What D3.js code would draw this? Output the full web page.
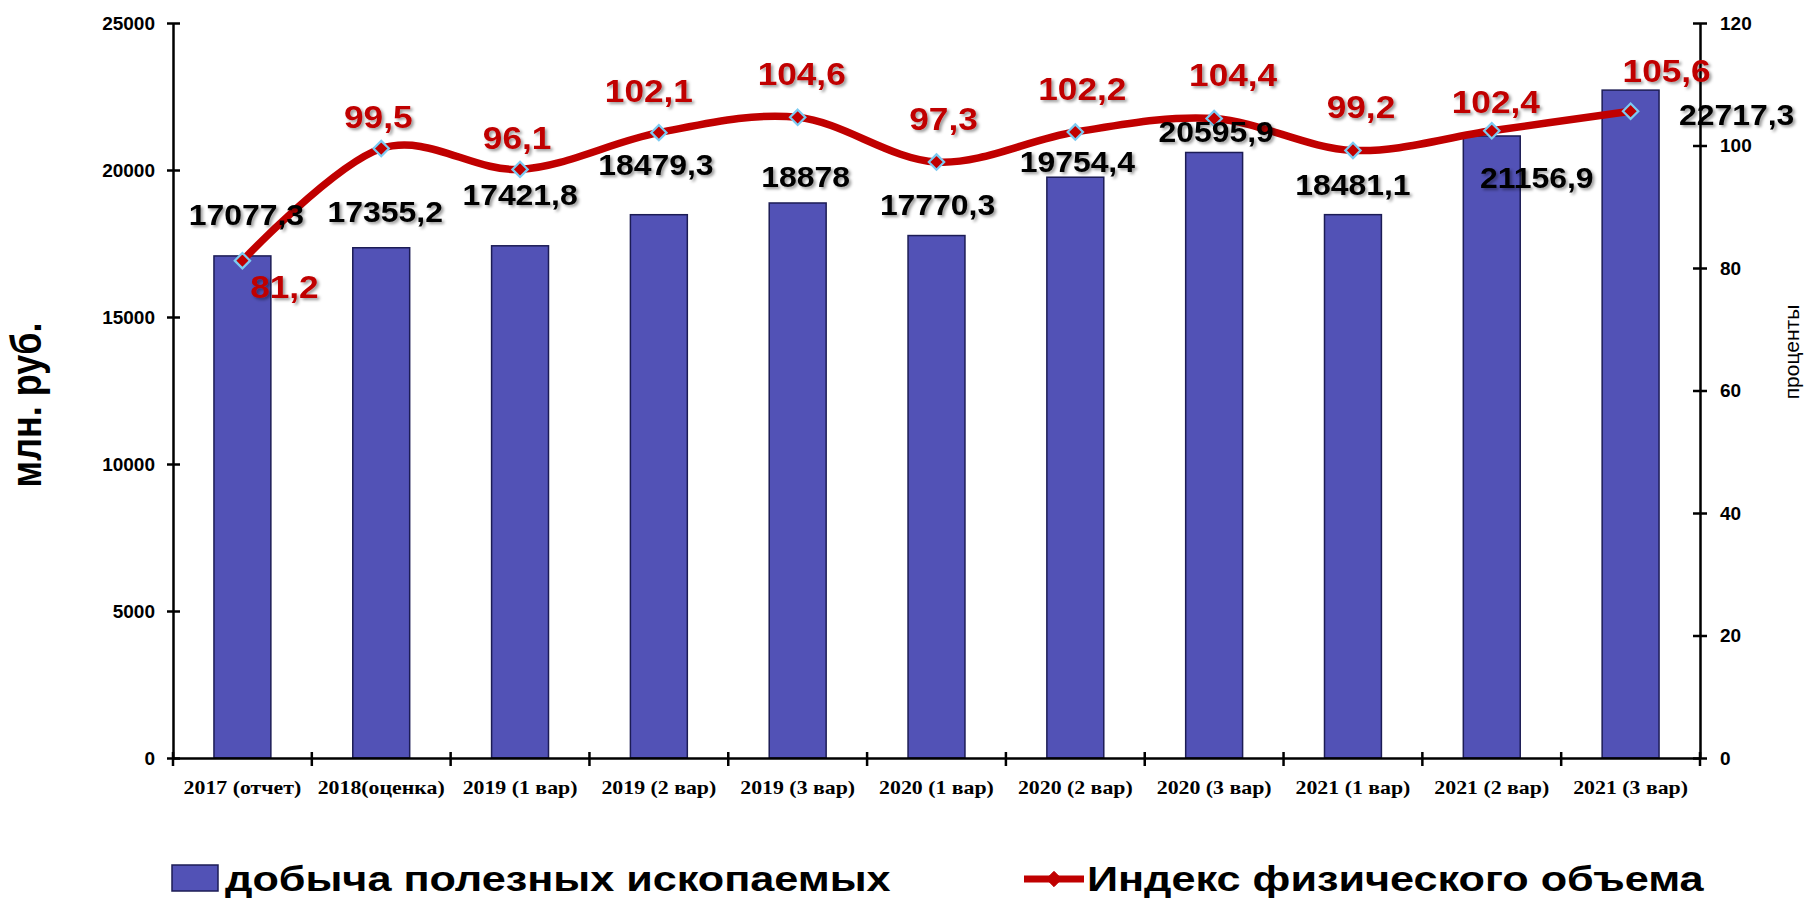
<!DOCTYPE html>
<html>
<head>
<meta charset="utf-8">
<script src="https://cdn.jsdelivr.net/npm/d3@7"></script>
<style>
  body { margin: 0; background: #fff; }
  svg { display: block; }
  .lbl { font-family: "Liberation Sans", Arial, sans-serif; font-weight: bold; }
</style>
</head>
<body>
<div id="chart"></div>
<script>
// data
var categories = ["2017 (отчет)", "2018(оценка)", "2019 (1 вар)", "2019 (2 вар)", "2019 (3 вар)",
  "2020 (1 вар)", "2020 (2 вар)", "2020 (3 вар)", "2021 (1 вар)", "2021 (2 вар)", "2021 (3 вар)"];
var production = [17077.3, 17355.2, 17421.8, 18479.3, 18878, 17770.3, 19754.4, 20595.9, 18481.1, 21156.9, 22717.3];
var volumeIndex = [81.2, 99.5, 96.1, 102.1, 104.6, 97.3, 102.2, 104.4, 99.2, 102.4, 105.6];
var leftTicks = [0, 5000, 10000, 15000, 20000, 25000];
var rightTicks = [0, 20, 40, 60, 80, 100, 120];
var barName = "добыча полезных ископаемых";
var lineName = "Индекс физического объема";

// label offsets (px) from the mark they belong to, as placed in the original
var barLabelOff = [[4, -31], [4, -26], [0, -41], [-3, -40], [8, -16], [1, -21], [2, -5], [2, -10], [0, -20], [45, 52], [106, 35]];
var lineLabelOff = [[42, 37], [-3, -21], [-3, -20], [-10, -31], [4, -32], [7, -32], [7, -32], [19, -33], [8, -32], [4, -18], [36, -29]];

var W = 1808, H = 898;
var plotLeft = 173, plotRight = 1700, plotTop = 23, plotBottom = 758;
var SX = 1.2; // original text is stretched horizontally

var svg = d3.select("#chart").append("svg")
  .attr("width", W).attr("height", H);

var defs = svg.append("defs");
defs.append("filter").attr("id", "sh")
  .attr("x", "-10%").attr("y", "-20%").attr("width", "130%").attr("height", "150%")
  .append("feDropShadow")
  .attr("dx", 2).attr("dy", 2).attr("stdDeviation", 1.4)
  .attr("flood-color", "#000").attr("flood-opacity", 0.4);

var x = d3.scaleBand().domain(categories).range([plotLeft, plotRight]).padding(0);
var yL = d3.scaleLinear().domain([0, 25000]).range([plotBottom, plotTop]);
var yR = d3.scaleLinear().domain([0, 120]).range([plotBottom, plotTop]);
var barW = x.bandwidth() * 0.41;
var cx = function(c) { return x(c) + x.bandwidth() / 2; };

// bars
svg.append("g").selectAll("rect")
  .data(production)
  .join("rect")
  .attr("x", function(d, i) { return cx(categories[i]) - barW / 2; })
  .attr("y", function(d) { return yL(d); })
  .attr("width", barW)
  .attr("height", function(d) { return yL(0) - yL(d); })
  .attr("fill", "#5252B6")
  .attr("stroke", "#1c1c55")
  .attr("stroke-width", 1.5);

// axes
var axL = svg.append("g").attr("transform", "translate(" + plotLeft + ",0)")
  .call(d3.axisLeft(yL).tickValues(leftTicks).tickFormat(d3.format("d"))
    .tickSize(6).tickSizeOuter(0).tickPadding(12));
axL.selectAll(".tick line").attr("x1", 7);

var axR = svg.append("g").attr("transform", "translate(" + plotRight + ",0)")
  .call(d3.axisRight(yR).tickValues(rightTicks).tickFormat(d3.format("d"))
    .tickSize(7).tickSizeOuter(0).tickPadding(13));
axR.selectAll(".tick line").attr("x1", -7);

var axB = svg.append("g").attr("transform", "translate(0," + plotBottom + ")")
  .call(d3.axisBottom(x).tickSize(0).tickSizeOuter(0));
axB.selectAll(".tick text")
  .attr("font-family", "'Liberation Serif', 'Times New Roman', serif")
  .attr("font-weight", "bold")
  .attr("font-size", 18.5)
  .attr("fill", "#000")
  .attr("dy", 0)
  .attr("y", 36)
  .attr("transform", "scale(1.18,1)");
// boundary ticks on the category axis
svg.append("g").selectAll("line")
  .data(d3.range(categories.length + 1))
  .join("line")
  .attr("x1", function(i) { return plotLeft + i * x.step(); })
  .attr("x2", function(i) { return plotLeft + i * x.step(); })
  .attr("y1", plotBottom - 6).attr("y2", plotBottom + 8)
  .attr("stroke", "#000").attr("stroke-width", 2.5);

[axL, axR, axB].forEach(function(a) {
  a.select(".domain").attr("stroke", "#000").attr("stroke-width", 2.5);
  a.selectAll(".tick line").attr("stroke", "#000").attr("stroke-width", 2.5);
});
[axL, axR].forEach(function(a) {
  a.selectAll(".tick text")
    .attr("font-family", "'Liberation Sans', Arial, sans-serif")
    .attr("font-weight", "bold").attr("font-size", 19).attr("fill", "#000");
});

// line
var line = d3.line()
  .x(function(d, i) { return cx(categories[i]); })
  .y(function(d) { return yR(d); })
  .curve(d3.curveCardinal.tension(0));
svg.append("path")
  .datum(volumeIndex)
  .attr("d", line)
  .attr("fill", "none")
  .attr("stroke", "#C00000")
  .attr("stroke-width", 7.5);

var diamond = d3.symbol().type(d3.symbolDiamond2).size(150);
svg.append("g").selectAll("path")
  .data(volumeIndex)
  .join("path")
  .attr("transform", function(d, i) { return "translate(" + cx(categories[i]) + "," + yR(d) + ")"; })
  .attr("d", diamond)
  .attr("fill", "#C00000")
  .attr("stroke", "#7CCBF2")
  .attr("stroke-width", 2.2);

// bar labels
svg.append("g").selectAll("text")
  .data(production)
  .join("text")
  .attr("class", "lbl")
  .attr("transform", function(d, i) {
    return "translate(" + (cx(categories[i]) + barLabelOff[i][0]) + "," + (yL(d) + barLabelOff[i][1]) + ") scale(1.1,1)";
  })
  .attr("text-anchor", "middle")
  .attr("font-size", 29)
  .attr("fill", "#000")
  .attr("filter", "url(#sh)")
  .text(function(d) { return String(d).replace(".", ","); });

// index labels
svg.append("g").selectAll("text")
  .data(volumeIndex)
  .join("text")
  .attr("class", "lbl")
  .attr("transform", function(d, i) {
    return "translate(" + (cx(categories[i]) + lineLabelOff[i][0]) + "," + (yR(d) + lineLabelOff[i][1]) + ") scale(1.1,1)";
  })
  .attr("text-anchor", "middle")
  .attr("font-size", 32)
  .attr("fill", "#C00000")
  .attr("filter", "url(#sh)")
  .text(function(d) { return d.toFixed(1).replace(".", ","); });

// axis titles
svg.append("text")
  .attr("class", "lbl")
  .attr("transform", "translate(41,405) scale(" + SX + ",1) rotate(-90)")
  .attr("text-anchor", "middle")
  .attr("font-size", 36)
  .text("млн. руб.");

svg.append("text")
  .attr("transform", "translate(1799,352) rotate(-90)")
  .attr("text-anchor", "middle")
  .attr("font-family", "'Liberation Sans', Arial, sans-serif")
  .attr("font-size", 21)
  .text("проценты");

// legend
var lg = svg.append("g");
lg.append("rect")
  .attr("x", 172).attr("y", 865).attr("width", 46).attr("height", 26)
  .attr("fill", "#5252B6").attr("stroke", "#1c1c55").attr("stroke-width", 1.5);
lg.append("text")
  .attr("class", "lbl")
  .attr("transform", "translate(225,891) scale(" + SX + ",1)")
  .attr("font-size", 36)
  .text(barName);

lg.append("line")
  .attr("x1", 1024).attr("x2", 1084).attr("y1", 879).attr("y2", 879)
  .attr("stroke", "#C00000").attr("stroke-width", 7);
lg.append("path")
  .attr("transform", "translate(1054,879)")
  .attr("d", diamond)
  .attr("fill", "#C00000").attr("stroke", "#C00000");
lg.append("text")
  .attr("class", "lbl")
  .attr("transform", "translate(1087,891) scale(" + SX + ",1)")
  .attr("font-size", 36)
  .text(lineName);
</script>
</body>
</html>
